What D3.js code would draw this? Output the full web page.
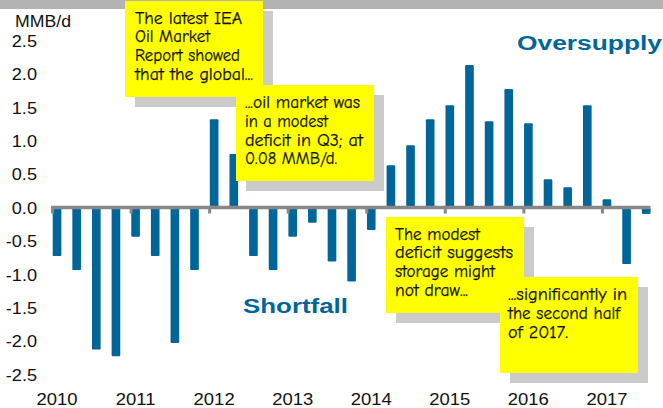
<!DOCTYPE html>
<html>
<head>
<meta charset="utf-8">
<script src="https://cdn.jsdelivr.net/npm/d3@7"></script>
<style>
  html, body { margin: 0; padding: 0; background: #fff; }
  svg { display: block; }
</style>
</head>
<body>
<svg id="chart" width="663" height="408"></svg>
<script>
// ---- data ----
const quarters = [
  "2010Q1","2010Q2","2010Q3","2010Q4",
  "2011Q1","2011Q2","2011Q3","2011Q4",
  "2012Q1","2012Q2","2012Q3","2012Q4",
  "2013Q1","2013Q2","2013Q3","2013Q4",
  "2014Q1","2014Q2","2014Q3","2014Q4",
  "2015Q1","2015Q2","2015Q3","2015Q4",
  "2016Q1","2016Q2","2016Q3","2016Q4",
  "2017Q1","2017Q2","2017Q3"
];
const balance = [
  -0.72, -0.93, -2.12, -2.22,
  -0.43, -0.72, -2.02, -0.93,
   1.33,  0.81, -0.72, -0.93,
  -0.43, -0.22, -0.80, -1.10,
  -0.33,  0.64,  0.94,  1.33,
   1.54,  2.14,  1.30,  1.78,
   1.27,  0.43,  0.31,  1.54,
   0.13, -0.84, -0.09
];
const yearLabels = ["2010","2011","2012","2013","2014","2015","2016","2017"];
const yTicks = [2.5, 2.0, 1.5, 1.0, 0.5, 0.0, -0.5, -1.0, -1.5, -2.0, -2.5];
const unitLabel = "MMB/d";
const regionLabels = ["Oversupply", "Shortfall"];
const note1 = ["The latest IEA", "Oil Market", "Report showed", "that the global..."];
const note2 = ["...oil market was", "in a modest", "deficit in Q3; at", "0.08 MMB/d."];
const note3 = ["The modest", "deficit suggests", "storage might", "not draw..."];
const note4 = ["...significantly in", "the second half", "of 2017."];

// ---- layout ----
const W = 663, H = 408;
const BLUE = "#006699";
const svg = d3.select("#chart");

const x = d3.scaleBand().domain(quarters).range([52, 52 + quarters.length * 19.64]).padding(0);
const y = d3.scaleLinear().domain([-2.5, 2.5]).range([375, 41]);

// top grey band
svg.append("rect").attr("x", 0).attr("y", 0).attr("width", W).attr("height", 9).attr("fill", "#b3b3b3");

// unit label
svg.append("text").attr("x", 15).attr("y", 27)
  .attr("font-family", "Liberation Sans, Arial, sans-serif").attr("font-size", 16.5)
  .attr("textLength", 56).attr("lengthAdjust", "spacingAndGlyphs")
  .attr("fill", "#111").text(unitLabel);

// y axis labels
const yAxis = d3.axisLeft(y).tickValues(yTicks).tickSize(0).tickPadding(0)
  .tickFormat(d => d.toFixed(1));
const gy = svg.append("g").attr("transform", "translate(37,0) scale(1.1,1)").call(yAxis);
gy.select(".domain").remove();
gy.selectAll("text")
  .attr("font-family", "Liberation Sans, Arial, sans-serif")
  .attr("font-size", 16.5).attr("fill", "#111");

// bars
const bw = x.bandwidth() * 0.44;
svg.append("g").selectAll("rect").data(quarters).join("rect")
  .attr("x", (q) => x(q) + 0.7)
  .attr("width", bw)
  .attr("y", (q, i) => y(Math.max(0, balance[i])))
  .attr("height", (q, i) => Math.abs(y(balance[i]) - y(0)))
  .attr("rx", 1.2)
  .attr("fill", BLUE);

// zero axis line & ticks
const y0 = y(0) - 0.5;
svg.append("line").attr("x1", 51).attr("x2", x(quarters[quarters.length - 1]) + 0.7 + bw)
  .attr("y1", y0).attr("y2", y0).attr("stroke", "#888").attr("stroke-width", 3.5);
svg.append("g").selectAll("line").data(yearLabels).join("line")
  .attr("x1", d => x(d + "Q1") + 0.5).attr("x2", d => x(d + "Q1") + 0.5)
  .attr("y1", y0).attr("y2", y0 + 6)
  .attr("stroke", "#888").attr("stroke-width", 3);

// year labels
svg.append("g").selectAll("text").data(yearLabels).join("text")
  .attr("transform", d => `translate(${x(d + "Q1") + 5},405) scale(1.12,1)`)
  .attr("text-anchor", "middle")
  .attr("font-family", "Liberation Sans, Arial, sans-serif").attr("font-size", 16.5)
  .attr("fill", "#111").text(d => d);

// region labels
svg.append("text").attr("x", 517).attr("y", 50)
  .attr("font-family", "Liberation Sans, Arial, sans-serif").attr("font-weight", "bold")
  .attr("font-size", 20).attr("textLength", 145).attr("lengthAdjust", "spacingAndGlyphs")
  .attr("fill", BLUE).text(regionLabels[0]);
svg.append("text").attr("x", 243).attr("y", 313)
  .attr("font-family", "Liberation Sans, Arial, sans-serif").attr("font-weight", "bold")
  .attr("font-size", 21).attr("textLength", 105).attr("lengthAdjust", "spacingAndGlyphs")
  .attr("fill", BLUE).text(regionLabels[1]);

// annotation notes
const notes = [
  { lines: note1, bx: 125, by: 1,   tx: 135, ty: 23.5, widths: [107, 75, 105, 118] },
  { lines: note2, bx: 236, by: 85,  tx: 245, ty: 108,  widths: [115, 83, 118, 92] },
  { lines: note3, bx: 386, by: 217, tx: 395, ty: 239.5, widths: [85, 118, 100, 73] },
  { lines: note4, bx: 500, by: 277, tx: 508, ty: 300,  widths: [119, 112, 60] }
];
notes.forEach(n => {
  const g = svg.append("g");
  g.append("rect").attr("x", n.bx + 10).attr("y", n.by + 10).attr("width", 138).attr("height", 96)
    .attr("fill", "#cbcbcb");
  g.append("rect").attr("x", n.bx).attr("y", n.by).attr("width", 138).attr("height", 96)
    .attr("fill", "#ffff00");
  g.selectAll("text").data(n.lines).join("text")
    .attr("x", n.tx).attr("y", (d, i) => n.ty + i * 18.8)
    .attr("font-family", "'Comic Sans MS', 'Comic Neue', 'DejaVu Sans', sans-serif")
    .attr("font-size", 17)
    .attr("textLength", (d, i) => n.widths[i]).attr("lengthAdjust", "spacingAndGlyphs")
    .attr("fill", "#111").attr("stroke", "#111").attr("stroke-width", 0.25)
    .text(d => d);
});
</script>
</body>
</html>
